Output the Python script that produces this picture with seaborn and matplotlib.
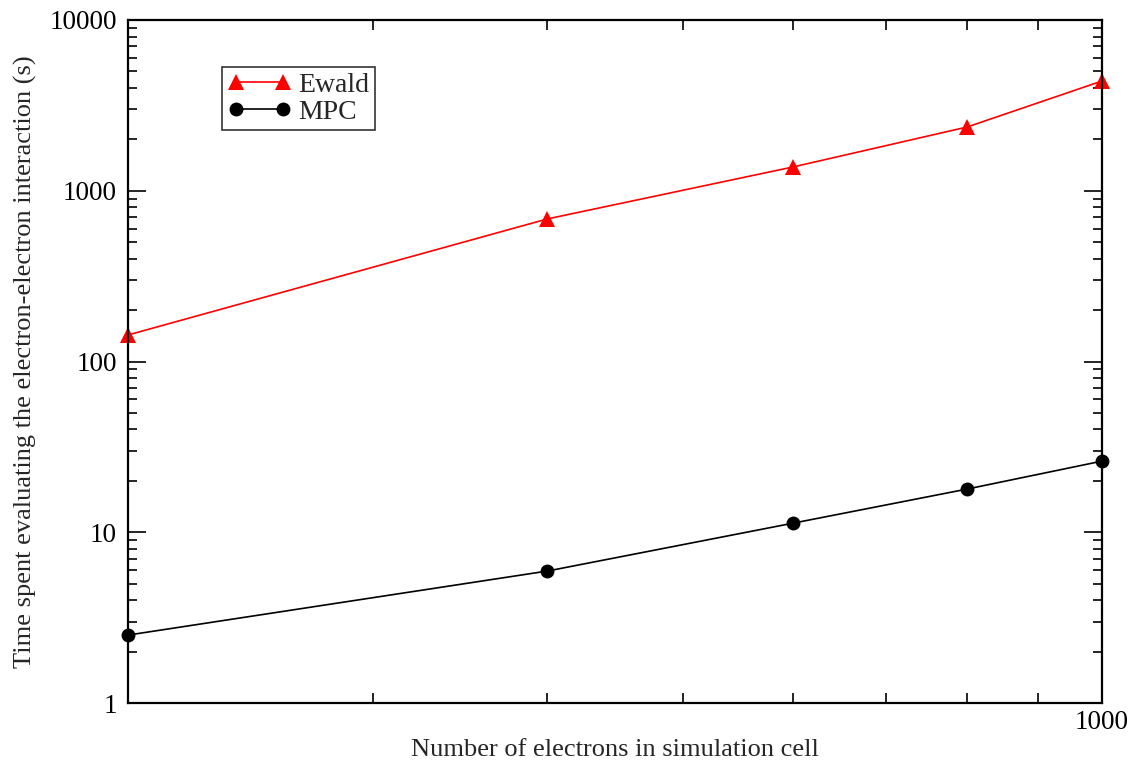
#!/usr/bin/env python3
# timing of Ewald vs MPC electron-electron interaction, log-log

import pandas as pd
import seaborn as sns
import matplotlib.pyplot as plt
from matplotlib.ticker import LogLocator, FixedLocator, NullFormatter

# data
n_electrons = [200, 400, 600, 800, 1000]
ewald_time = [143, 684, 1377, 2360, 4390]
mpc_time = [2.5, 5.93, 11.3, 17.9, 26.1]

sns.set_style('ticks')
plt.rcParams['font.family'] = ['Liberation Serif', 'DejaVu Serif']

df = pd.DataFrame({
    'N': n_electrons * 2,
    'time': ewald_time + mpc_time,
    'method': ['Ewald'] * 5 + ['MPC'] * 5,
})

fig = plt.figure(figsize=(11.39, 7.65), dpi=100)
ax = fig.add_axes([0.1124, 0.081, 0.8551, 0.8929])

sns.lineplot(data=df[df['method'] == 'Ewald'], x='N', y='time', color='red',
             marker='^', markersize=11, markeredgewidth=0, linewidth=1.2,
             label='Ewald', ax=ax, clip_on=False)
sns.lineplot(data=df[df['method'] == 'MPC'], x='N', y='time', color='black',
             marker='o', markersize=10, markeredgewidth=0, linewidth=1.2,
             label='MPC', ax=ax, clip_on=False)

ax.set_xscale('log')
ax.set_yscale('log')
ax.set_xlim(200, 1000)
ax.set_ylim(1, 10000)

# x ticks: only 1000 labelled, others minor
ax.xaxis.set_major_locator(FixedLocator([1000]))
ax.xaxis.set_minor_locator(FixedLocator([200, 300, 400, 500, 600, 700, 800, 900]))
ax.xaxis.set_minor_formatter(NullFormatter())
ax.set_xticklabels(['1000'])

ax.yaxis.set_minor_locator(LogLocator(base=10, subs=range(2, 10), numticks=20))
ax.yaxis.set_minor_formatter(NullFormatter())
ax.set_yticks([1, 10, 100, 1000, 10000])
ax.set_yticklabels(['1', '10', '100', '1000', '10000'])

ax.tick_params(which='both', direction='in', top=True, right=True,
               labelsize=19.5, width=1.2, colors='black')
ax.tick_params(axis='y', pad=8)
ax.tick_params(axis='x', pad=5)
ax.tick_params(which='major', length=13)
ax.tick_params(which='minor', length=6.5)
ax.tick_params(axis='x', which='minor', length=7)
for s in ax.spines.values():
    s.set_linewidth(1.6)
    s.set_color('black')

ax.set_xlabel('Number of electrons in simulation cell', fontsize=19, labelpad=3)
ax.set_ylabel('Time spent evaluating the electron-electron interaction (s)',
              fontsize=19, labelpad=9)

leg = ax.legend(loc='upper left', bbox_to_anchor=(0.0965, 0.931), fontsize=20,
                frameon=True, fancybox=False, edgecolor='black', numpoints=2,
                handlelength=2.3, handletextpad=0.25, borderpad=0.2,
                labelspacing=0.05, borderaxespad=0)
leg.get_frame().set_linewidth(1.2)

fig.savefig('out.png', dpi=100)
